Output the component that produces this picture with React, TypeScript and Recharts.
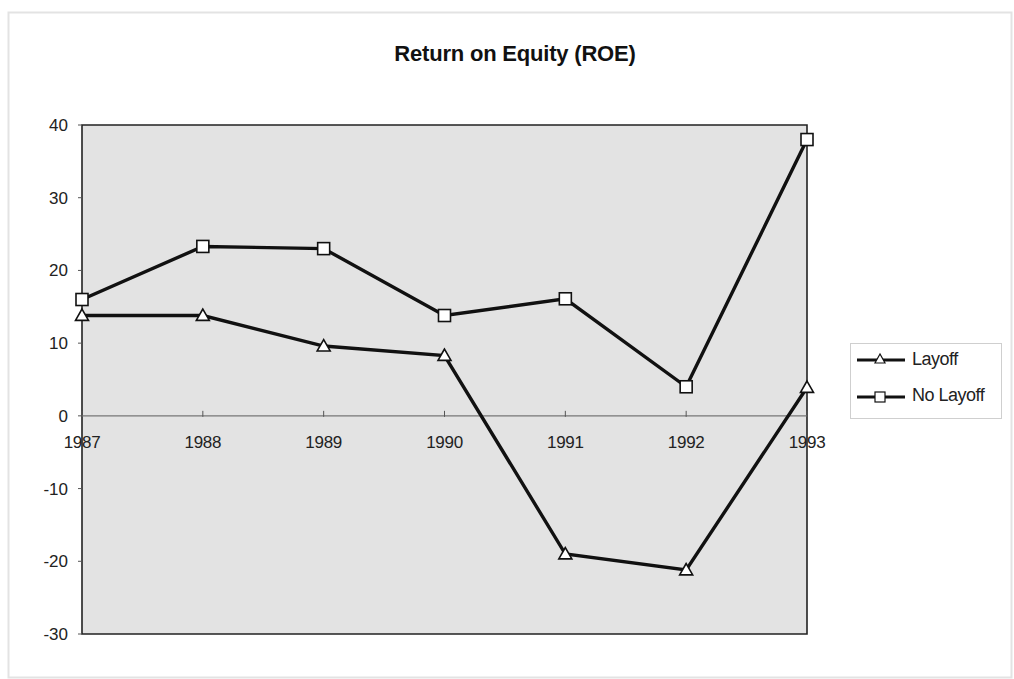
import React from 'react';
import { LineChart, Line, XAxis, YAxis, CartesianGrid, ReferenceLine, ReferenceArea, ReferenceDot } from 'recharts';

const years = ['1987', '1988', '1989', '1990', '1991', '1992', '1993'];
const layoff = [13.8, 13.8, 9.6, 8.3, -19.0, -21.2, 3.9];
const noLayoff = [16.0, 23.3, 23.0, 13.8, 16.1, 4.0, 38.0];
const yTicks = [-30, -20, -10, 0, 10, 20, 30, 40];
const title = 'Return on Equity (ROE)';
const seriesNames = ['Layoff', 'No Layoff'];

const data = years.map((y, i) => ({ year: y, layoff: layoff[i], noLayoff: noLayoff[i] }));

const FONT = 'Liberation Sans, Arial, sans-serif';

const Triangle = (props: any) => {
  const { cx, cy } = props;
  if (cx == null || cy == null) return null;
  const s = 6.5;
  return (
    <polygon
      points={`${cx},${cy - s} ${cx - s},${cy + s * 0.75} ${cx + s},${cy + s * 0.75}`}
      fill="#fff"
      stroke="#111"
      strokeWidth={1.6}
    />
  );
};

const Square = (props: any) => {
  const { cx, cy } = props;
  if (cx == null || cy == null) return null;
  const s = 6;
  return <rect x={cx - s} y={cy - s} width={2 * s} height={2 * s} fill="#fff" stroke="#111" strokeWidth={1.6} />;
};

const makeCategoryTick = (label: string) => (props: any) => {
  const { cx, cy } = props;
  if (cx == null || cy == null) return null;
  return (
    <g>
      <line x1={cx} x2={cx} y1={cy - 5} y2={cy + 1} stroke="#555" strokeWidth={1} />
      <text x={cx} y={cy + 32} textAnchor="middle" fontFamily={FONT} fontSize={17} fill="#222" letterSpacing={-0.3}>
        {label}
      </text>
    </g>
  );
};

const LegendBox = () => (
  <svg width={152} height={76} style={{ position: 'absolute', left: 850, top: 343 }}>
    <rect x={0.5} y={0.5} width={151} height={75} fill="#fff" stroke="#cfcfcf" />
    <line x1={7} x2={55} y1={17} y2={17} stroke="#111" strokeWidth={3} />
    <polygon points="30,11 25,20 35,20" fill="#fff" stroke="#111" strokeWidth={1.2} />
    <text x={62} y={22} fontFamily={FONT} fontSize={18} fill="#222" letterSpacing={-0.5}>{seriesNames[0]}</text>
    <line x1={7} x2={55} y1={54} y2={54} stroke="#111" strokeWidth={3} />
    <rect x={25} y={49} width={10} height={10} fill="#fff" stroke="#111" strokeWidth={1.2} />
    <text x={62} y={58} fontFamily={FONT} fontSize={18} fill="#222" letterSpacing={-0.5}>{seriesNames[1]}</text>
  </svg>
);

export default function App() {
  return (
    <div style={{ position: 'absolute', left: 0, top: 0, width: 1014, height: 679, background: '#fff' }}>
      <svg width={1014} height={679} style={{ position: 'absolute', left: 0, top: 0 }}>
        <rect x={8.5} y={12.5} width={1003} height={665} fill="none" stroke="#e3e3e3" strokeWidth={2} />
        <text x={515} y={61} textAnchor="middle" fontFamily={FONT} fontSize={22} fontWeight="bold" fill="#111" letterSpacing={-0.2}>{title}</text>
      </svg>
      <div style={{ position: 'absolute', left: 0, top: 0 }}>
        <LineChart width={1014} height={679} data={data} margin={{ top: 125, right: 207, bottom: 45, left: 22 }}>
          <CartesianGrid horizontal={false} vertical={false} fill="#e3e3e3" />
          <XAxis dataKey="year" hide />
          <YAxis
            domain={[-30, 40]}
            ticks={yTicks}
            width={60}
            axisLine={false}
            tickLine={{ stroke: '#555' }}
            tickSize={4}
            tickMargin={10}
            tick={{ fontFamily: FONT, fontSize: 17, fill: '#222' }}
            allowDataOverflow
          />
          <ReferenceArea x1={years[0]} x2={years[years.length - 1]} y1={-30} y2={40} fill="none" stroke="#222" strokeWidth={1.6} fillOpacity={0} />
          <ReferenceLine y={0} stroke="#777" strokeWidth={1.2} />
          {years.map((y) => (
            <ReferenceDot key={y} x={y} y={0} shape={makeCategoryTick(y)} />
          ))}
          <Line dataKey="layoff" name={seriesNames[0]} stroke="#111" strokeWidth={3.4} dot={<Triangle />} isAnimationActive={false} />
          <Line dataKey="noLayoff" name={seriesNames[1]} stroke="#111" strokeWidth={3.4} dot={<Square />} isAnimationActive={false} />
        </LineChart>
      </div>
      <LegendBox />
    </div>
  );
}
